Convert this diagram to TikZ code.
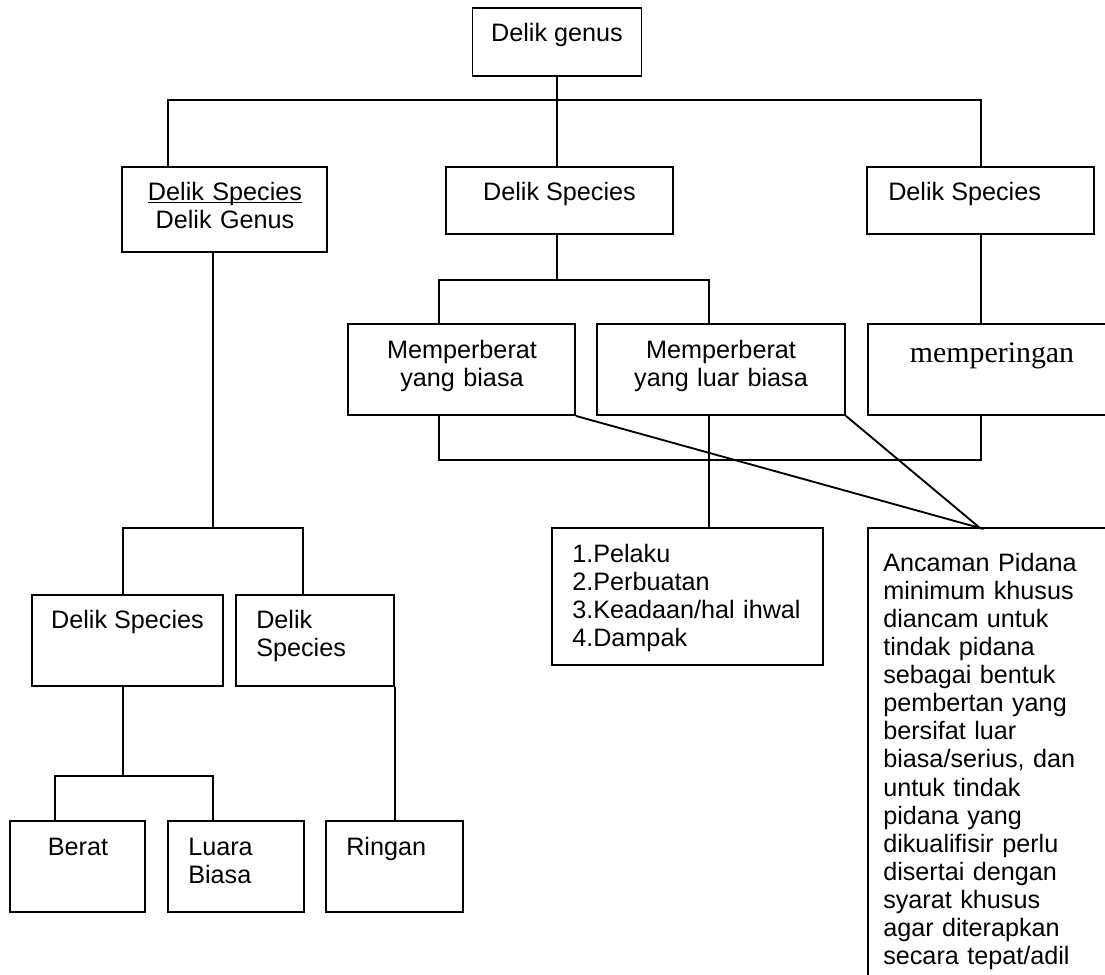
\documentclass[tikz,border=0pt]{standalone}
\usepackage{fontspec}
\setmainfont{Liberation Sans}
\newfontfamily\serifface{Liberation Serif}
\newcommand{\undl}[1]{{\setbox0\hbox{#1}\rlap{\rule[-2.2pt]{\wd0}{1pt}}\box0}}

\begin{document}
\begin{tikzpicture}[x=0.75pt,y=0.75pt,yscale=-1,xscale=1,
  box/.style 2 args={draw, line width=1.4pt, inner sep=0pt, minimum width=#1*0.75pt, minimum height=#2*0.75pt},
  lbl/.style={inner sep=0pt, anchor=base, font=\fontsize{18.9}{21.1}\selectfont},
  conn/.style={line width=1.4pt}]
%set diagram size 1105 x 974
\useasboundingbox (0,0) rectangle (1105,974);
\clip (0,0) rectangle (1105,974);

%Shape: Rectangle
\node [box={169}{68}] (genus) at (557,42) {};
\node [box={205}{85}] (spec1) at (224.5,209.5) {};
\node [box={227}{67}] (spec2) at (559.5,200.5) {};
\node [box={227}{67}] (spec3) at (980.5,200.5) {};
\node [box={227}{91}] (biasa) at (461.5,369.5) {};
\node [box={248}{91}] (luar) at (721,369.5) {};
\node [box={248}{91}] (peringan) at (992,369.5) {};
\node [box={271}{137}] (unsur) at (687.5,596.5) {};
\node [box={262}{480}] (ancaman) at (999,768) {};
\node [box={191}{91}] (spec4) at (127.5,640.5) {};
\node [box={158}{91}] (spec5) at (315,640.5) {};
\node [box={135}{91}] (berat) at (77.5,866.5) {};
\node [box={136}{91}] (luarbiasa) at (236,866.5) {};
\node [box={137}{91}] (ringan) at (394.5,866.5) {};

%Straight Lines
\coordinate (busL) at (168,100);
\coordinate (busR) at (981,100);
\coordinate (forkL) at (439,280);
\coordinate (forkR) at (709,280);
\coordinate (joinL) at (439,460);
\coordinate (joinR) at (981,460);
\coordinate (apex) at (980,528);
\coordinate (stem) at (213,528);
\coordinate (splitL) at (123,528);
\coordinate (splitR) at (303,528);
\coordinate (subL) at (55,776);
\coordinate (subR) at (213,776);

\draw [conn] (genus.south) -- (genus.south |- spec2.north);
\draw [conn] (spec1.north -| busL) -- (busL) -- (busR) -- (spec3.north -| busR);
\draw [conn] (genus.south |- spec2.south) -- (genus.south |- forkL);
\draw [conn] (biasa.north -| forkL) -- (forkL) -- (forkR) -- (luar.north -| forkR);
\draw [conn] (spec3.south -| busR) -- (peringan.north -| busR);
\draw [conn] (biasa.south -| joinL) -- (joinL) -- (joinR) -- (peringan.south -| joinR);
\draw [conn] (luar.south -| forkR) -- (unsur.north -| forkR);
\draw [conn] (biasa.south east) -- (apex) -- (luar.south east);
\draw [conn] (spec1.south -| stem) -- (stem);
\draw [conn] (spec4.north -| splitL) -- (splitL) -- (splitR) -- (spec5.north -| splitR);
\draw [conn] (spec4.south -| splitL) -- (subL -| splitL);
\draw [conn] (berat.north -| subL) -- (subL) -- (subR) -- (luarbiasa.north -| subR);
\draw [conn] (spec5.south east) -- (spec5.south east |- ringan.north);

% Text Node
\node [lbl] (tgenus) at (557,42) {Delik genus};
% Text Node
\node [lbl, text width=150pt, align=center] (tspec1) at (225,200) {\undl{Delik Species}\\Delik Genus};
% Text Node
\node [lbl] (tspec2) at (559.5,200) {Delik Species};
% Text Node
\node [lbl, anchor=base west] (tspec3) at (888,200) {Delik Species};
% Text Node
\node [lbl, text width=160pt, align=center] (tbiasa) at (462,358) {Memperberat\\yang biasa};
% Text Node
\node [lbl, text width=175pt, align=center] (tluar) at (721,358) {Memperberat\\yang luar biasa};
% Text Node
\node [lbl, font=\serifface\fontsize{22.4}{26}\selectfont] (tperingan) at (992,362) {memperingan};
% Text Node
\node [lbl, anchor=base west, text width=190pt, align=left] (tunsur) at (572,562) {1.Pelaku\\2.Perbuatan\\3.Keadaan/hal ihwal\\4.Dampak};
% Text Node
\node [lbl, anchor=base west, text width=180pt, align=left] (tancaman) at (883,571) {Ancaman Pidana\\minimum khusus\\diancam untuk\\tindak pidana\\sebagai bentuk\\pembertan yang\\bersifat luar\\biasa/serius, dan\\untuk tindak\\pidana yang\\dikualifisir perlu\\disertai dengan\\syarat khusus\\agar diterapkan\\secara tepat/adil};
% Text Node
\node [lbl] (tspec4) at (127.5,628) {Delik Species};
% Text Node
\node [lbl, anchor=base west, text width=110pt, align=left] (tspec5) at (256,628) {Delik\\Species};
% Text Node
\node [lbl] (tberat) at (78,855) {Berat};
% Text Node
\node [lbl, anchor=base west, text width=90pt, align=left] (tluarbiasa) at (188,855) {Luara\\Biasa};
% Text Node
\node [lbl, anchor=base west] (tringan) at (346,855) {Ringan};
\end{tikzpicture}
\end{document}
